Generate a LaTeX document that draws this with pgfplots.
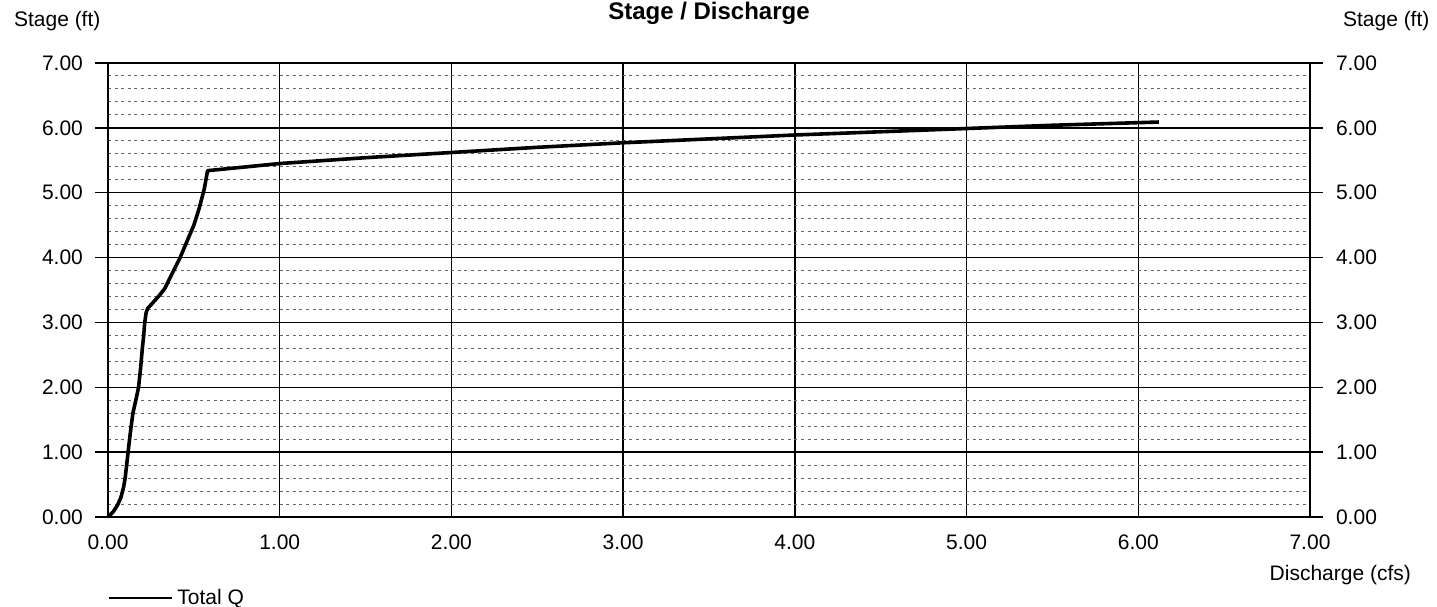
\documentclass[border=0pt]{standalone}
\usepackage{fontspec}
\setmainfont{Liberation Sans}
\usepackage{pgfplots}
\pgfplotsset{compat=1.18}

\pgfplotsset{
  stageaxis/.style={
    scale only axis, width=601pt, height=227pt,
    at={(0,0)}, anchor=south west,
    xmin=0, xmax=7, ymin=0, ymax=7,
    ytick={0,1,...,7},
    yticklabels={0.00,1.00,2.00,3.00,4.00,5.00,6.00,7.00},
    tick align=outside, major tick length=6.5pt,
    tick label style={font=\fontsize{10.5}{12.6}\selectfont},
    label style={font=\fontsize{10.5}{12.6}\selectfont},
    axis line style={line width=0.7pt},
    every tick/.style={black, line width=0.7pt},
  }
}

\begin{document}
\begin{tikzpicture}
\useasboundingbox (-54pt,-44.5pt) rectangle (664.5pt,258.5pt);

\begin{axis}[stageaxis, clip=false,
  xtick={0,1,...,7},
  xticklabels={0.00,1.00,2.00,3.00,4.00,5.00,6.00,7.00},
  xtick style={draw=none},
  xticklabel style={yshift=1pt},
  yticklabel style={xshift=-2.5pt},
  grid=major, major grid style={black, line width=0.7pt},
  minor y tick num=4, yminorgrids, minor tick length=0pt,
  minor grid style={black!60, line width=0.5pt, dash pattern=on 1.5pt off 1.8pt},
  ylabel={Stage (ft)},
  ylabel style={at={(rel axis cs:0,1)}, rotate=-90, anchor=base west, xshift=-50.5pt, yshift=18.5pt},
  xlabel={Discharge (cfs)},
  xlabel style={at={(rel axis cs:1,0)}, anchor=base east, xshift=54pt, yshift=-31.5pt},
  legend style={draw=none, fill=none, at={(rel axis cs:0,0)}, anchor=west, yshift=-40.5pt,
    inner sep=0pt, font=\fontsize{10.5}{12.6}\selectfont},
  legend cell align=left,
  legend image code/.code={\draw[black, line width=1pt] (0pt,0pt) -- (31.5pt,0pt);},
]
\addplot[black, line width=1.8pt, line join=round] coordinates {
  (0,0) (0.03,0.08) (0.055,0.18) (0.075,0.3) (0.09,0.45) (0.1,0.6)
  (0.117,1.0) (0.13,1.3) (0.145,1.6) (0.162,1.8) (0.178,2.0) (0.19,2.3)
  (0.2,2.6) (0.208,2.8) (0.214,3.0) (0.222,3.15) (0.232,3.22) (0.26,3.3)
  (0.3,3.42) (0.33,3.52) (0.36,3.68) (0.39,3.84) (0.42,4.0) (0.46,4.25)
  (0.5,4.5) (0.53,4.75) (0.56,5.05) (0.58,5.34) (1.0,5.45) (1.5,5.54)
  (2.0,5.62) (2.5,5.7) (3.0,5.77) (3.5,5.83) (4.0,5.89) (4.5,5.94)
  (5.0,5.99) (5.5,6.04) (6.12,6.09)
};
\addlegendentry{Total Q}
\node[font=\bfseries\fontsize{12}{14}\selectfont, anchor=base, yshift=22pt] at (rel axis cs:0.5,1) {Stage / Discharge};
\end{axis}

\begin{axis}[stageaxis,
  axis x line=none, axis y line*=right,
  yticklabel style={xshift=3pt},
  ylabel={Stage (ft)},
  ylabel style={at={(rel axis cs:1,1)}, rotate=-90, anchor=base west, xshift=13pt, yshift=18.5pt},
]
\addplot[draw=none] coordinates {(0,0) (7,7)};
\end{axis}
\end{tikzpicture}
\end{document}
